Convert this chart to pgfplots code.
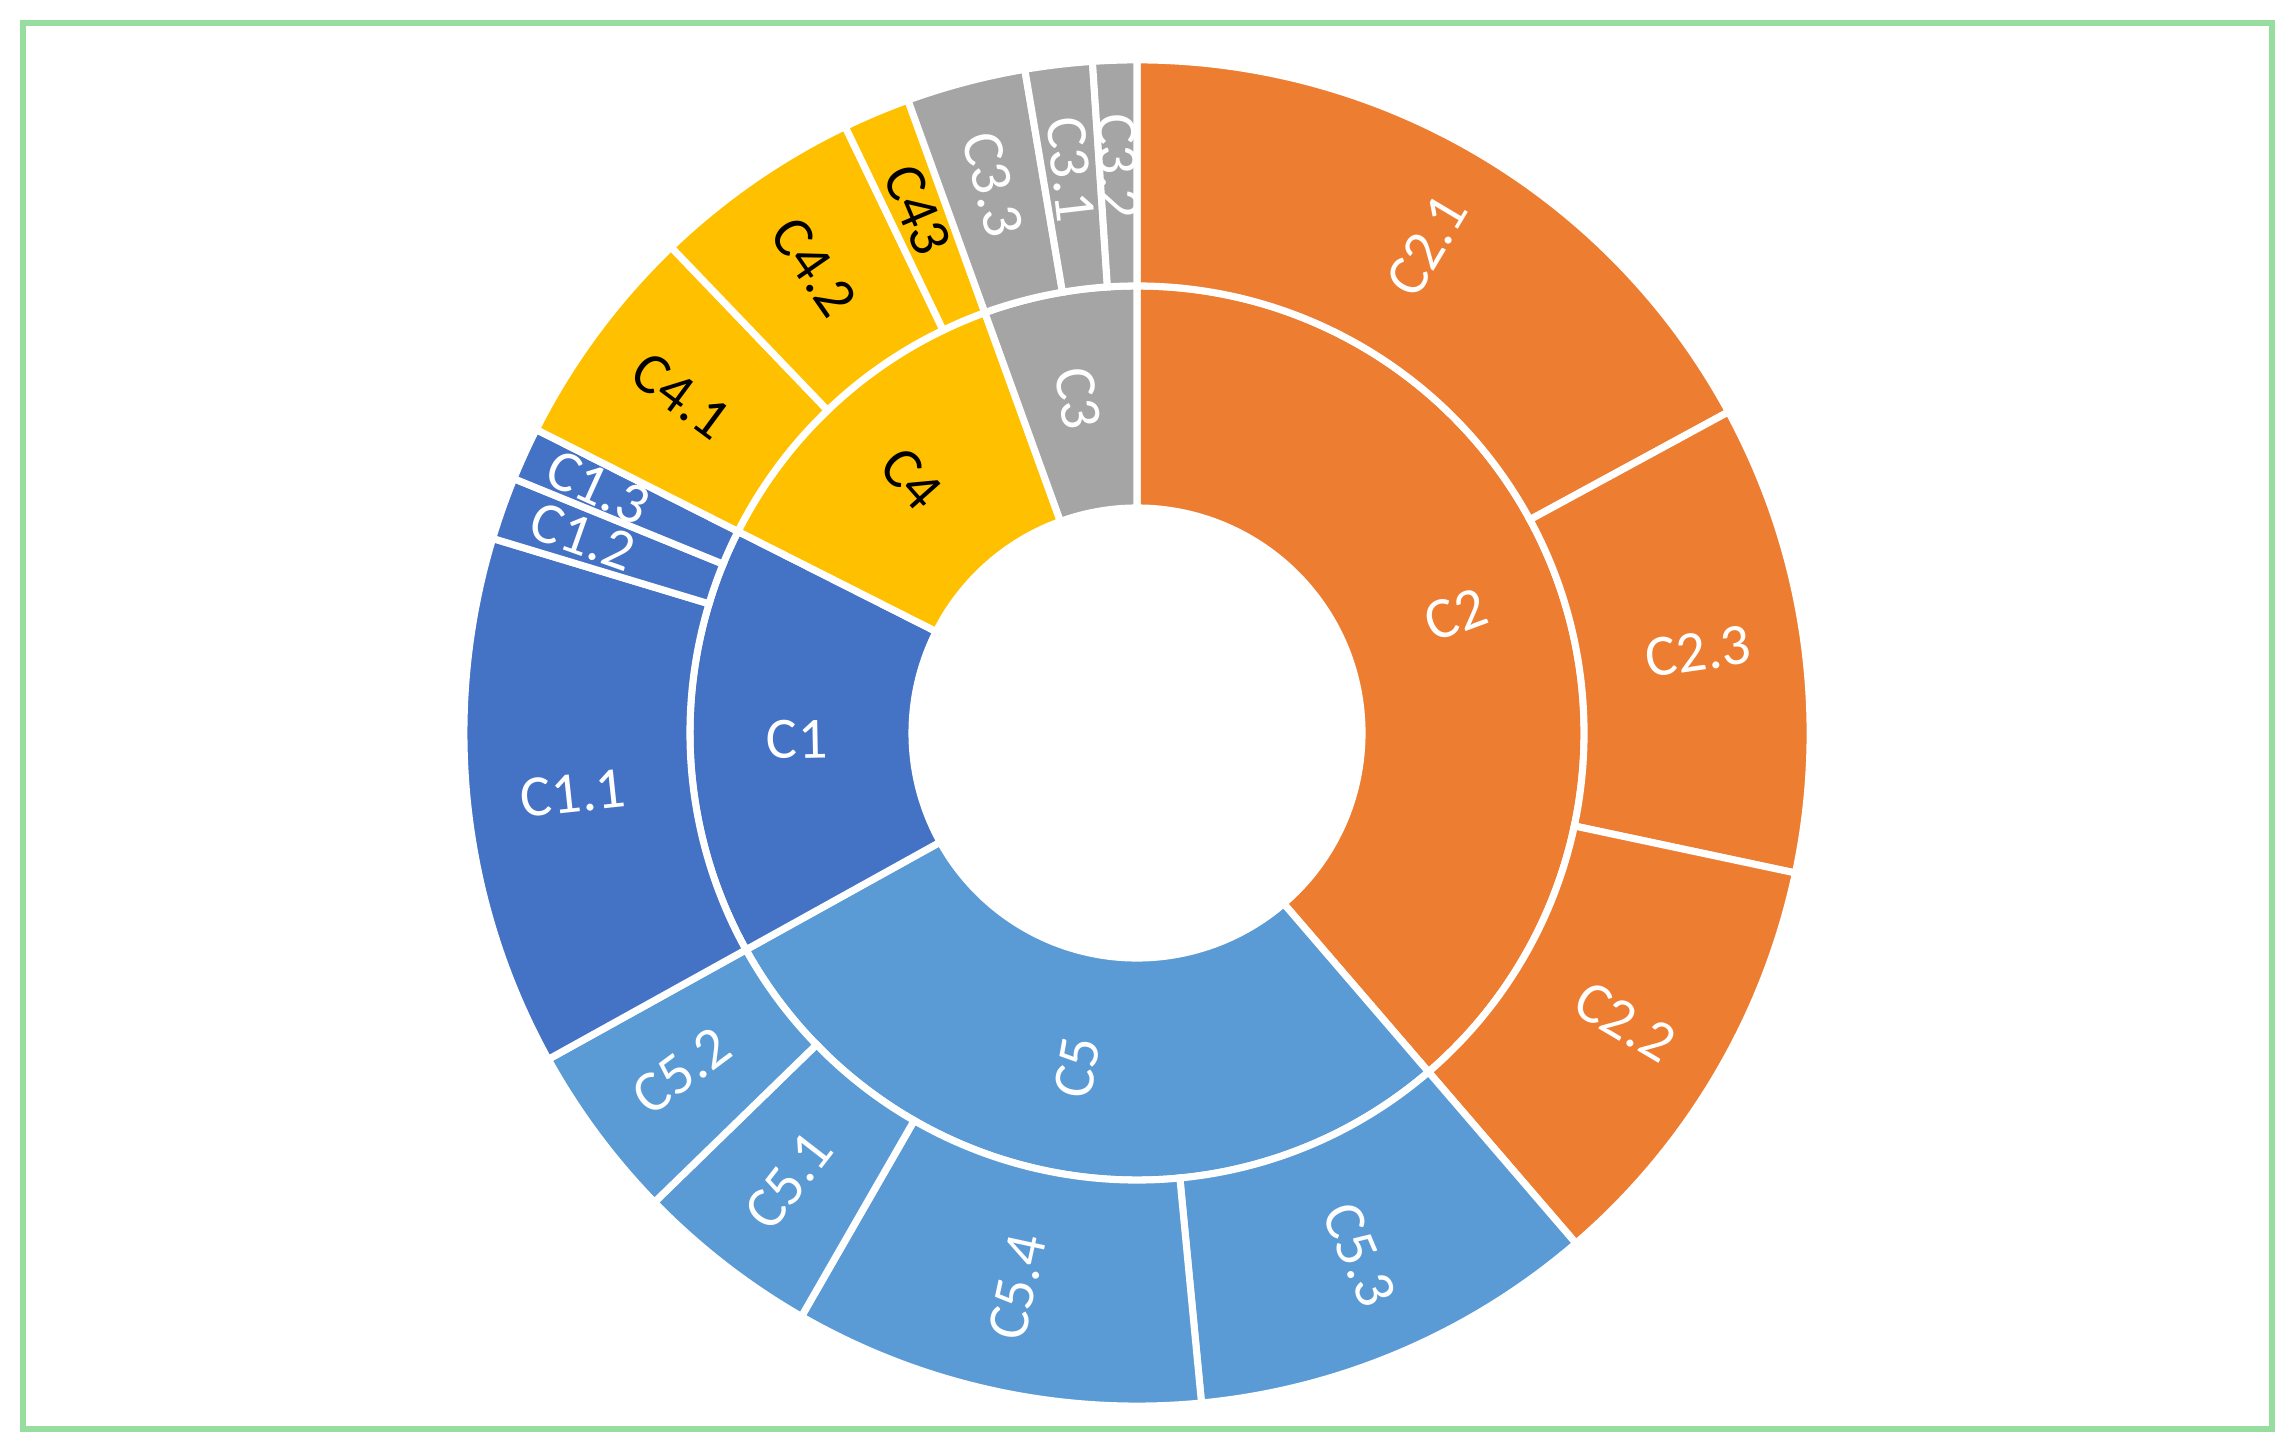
\documentclass[border=0pt]{standalone}
\usepackage{fontspec}
\setmainfont{Carlito}
\usepackage{pgfplots}
\usepackage{pgfplotstable}
\pgfplotsset{compat=1.18}

\definecolor{cat1}{HTML}{4472C4}
\definecolor{cat2}{HTML}{ED7D31}
\definecolor{cat3}{HTML}{A5A5A5}
\definecolor{cat4}{HTML}{FFC000}
\definecolor{cat5}{HTML}{5B9BD5}
\definecolor{framegreen}{HTML}{98DDA0}

% sunburst segments: angles clockwise from 12 o'clock, radii in axis units,
% grp = top level category (colour)
\pgfplotstableread{
name start end   rin rout rlab grp cx cy
C2   0     139.3 225 447  340  2   0  0
C5   139.3 241.0 225 447  340  5   0  0
C1   241.0 296.8 225 447  340  1   0  0
C4   296.8 340.1 225 447  340  4   0  0
C3   340.1 360.0 225 447  340  3   0  0
C2.1 0     61.5  447 673  567  2   0  0
C2.3 61.5  102.0 447 673  567  2   0  0
C2.2 102.0 139.3 447 673  567  2   0  0
C5.3 139.3 174.5 447 673  567  5   0  0
C5.4 174.5 209.9 447 673  567  5   0  0
C5.1 209.9 225.8 447 673  567  5   0  0
C5.2 225.8 241.0 447 673  567  5   0  0
C1.1 241.0 286.8 447 673  567  1   0  0
C1.2 286.8 292.2 447 673  588  1   0  0
C1.3 292.2 296.8 447 673  592  1   0  0
C4.1 296.8 316.2 447 673  567  4   0  0
C4.2 316.2 334.3 447 673  567  4   0  0
C43  334.3 340.1 447 673  567  4   0  0
C3.3 340.1 350.4 447 673  567  3   0  0
C3.1 350.4 356.2 447 673  567  3   0  0
C3.2 356.2 360.0 447 673  567  3   0  0
}\rings

\newcommand\lbl{\fontsize{11.6}{13}\selectfont}
% one axis unit on the canvas
\tikzset{px/.style={x=0.0069717cm,y=0.0069717cm}}

\pgfplotsset{
  sunburst/.style={
    scatter, only marks, mark=*, mark size=0pt,
    point meta min=0, point meta max=1,
    visualization depends on={\thisrow{start}\as\sa},
    visualization depends on={\thisrow{end}\as\ea},
    visualization depends on={\thisrow{rin}\as\ri},
    visualization depends on={\thisrow{rout}\as\ro},
    visualization depends on={\thisrow{rlab}\as\rl},
    visualization depends on={\thisrow{grp}\as\gr},
    visualization depends on={\coordindex\as\idx},
    scatter/@post marker code/.code={\endscope},
  },
}

\begin{document}
\begin{tikzpicture}
\begin{axis}[
    hide axis,
    scale only axis,
    width=16cm, height=10.1229cm,
    xmin=-1137, xmax=1158,
    ymin=-719, ymax=733,
    clip=false,
]
\fill[white] (axis cs:-1137,-719) rectangle (axis cs:1158,733);
\draw[framegreen, line width=1.19pt] (axis cs:-1114,710) rectangle (axis cs:1135,-696);

% segments
\addplot[sunburst,
    scatter/@pre marker code/.code={%
        \pgfmathsetmacro\a{90-\sa}\pgfmathsetmacro\b{90-\ea}%
        \pgfmathtruncatemacro\g{\gr}%
        \scope[px]
        \fill[fill=cat\g, draw=white, line width=1.4pt]
            (\a:\ro) arc[start angle=\a, end angle=\b, radius=\ro]
            -- (\b:\ri) arc[start angle=\b, end angle=\a, radius=\ri] -- cycle;
        \endscope
        \scope[opacity=0]},
] table[x=cx, y=cy] {\rings};

% labels
\addplot[sunburst,
    scatter/@pre marker code/.code={%
        \pgfmathsetmacro\m{90-(\sa+\ea)/2}%
        \pgfmathsetmacro\rot{mod(\m+810,180)-90}%
        \pgfmathtruncatemacro\g{\gr}%
        \pgfmathtruncatemacro\i{\idx}%
        \pgfplotstablegetelem{\i}{name}\of\rings
        \let\nm\pgfplotsretval
        \ifnum\g=4 \def\tc{black}\else\def\tc{white}\fi
        \scope[px]
        \node[text=\tc, rotate=\rot, font=\lbl, inner sep=0pt] at (\m:\rl) {\nm};
        \endscope
        \scope[opacity=0]},
] table[x=cx, y=cy] {\rings};
\end{axis}
\end{tikzpicture}
\end{document}
